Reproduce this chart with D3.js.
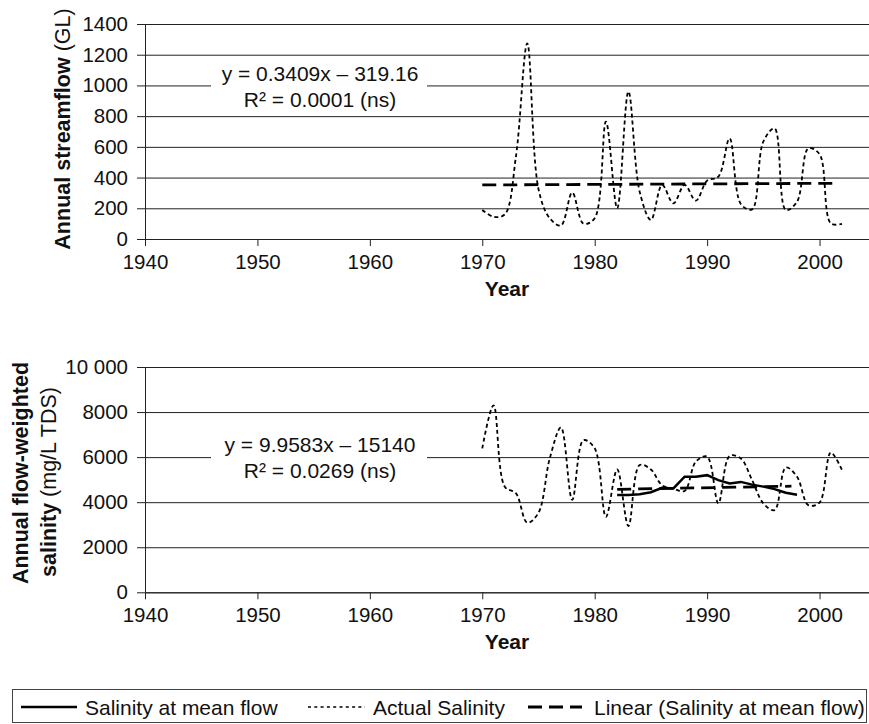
<!DOCTYPE html>
<html lang="en">
<head>
<meta charset="UTF-8" />
<title>Streamflow and salinity</title>
<script src="https://d3js.org/d3.v7.min.js"></script>
<style>
  body { margin: 0; background: #fff; }
  svg { display: block; font-family: "Liberation Sans", Arial, sans-serif; }
  .grid line { stroke: #222; stroke-width: 1; }
  .grid path { display: none; }
  .axis path, .axis line { stroke: #222; stroke-width: 1; }
  .axis text { font-family: "Liberation Sans", Arial, sans-serif; font-size: 20.5px; fill: #111; }
</style>
</head>
<body>
<svg width="869" height="724"></svg>
<script>
// ---- data ----
const years = [1970, 1971, 1972, 1973, 1974, 1975, 1976, 1977, 1978, 1979,
  1980, 1981, 1982, 1983, 1984, 1985, 1986, 1987, 1988, 1989,
  1990, 1991, 1992, 1993, 1994, 1995, 1996, 1997, 1998, 1999,
  2000, 2001, 2002];

const streamflow = [189, 145, 160, 540, 1274, 325, 135, 88, 302, 100,
  135, 764, 200, 960, 308, 124, 352, 232, 352, 250,
  380, 406, 655, 228, 193, 634, 720, 189, 243, 590,
  553, 102, 98];

const actualSalinity = [6390, 8300, 4690, 4390, 3090, 3530, 5940, 7320, 4100, 6750,
  6390, 3350, 5450, 2940, 5650, 5450, 4750, 4600, 4500, 5800,
  6020, 3950, 6050, 5940, 4980, 3950, 3650, 5540, 5130, 3870,
  3980, 6200, 5420];

const meanFlowYears = [1982, 1983, 1984, 1985, 1986, 1987, 1988, 1989, 1990,
  1991, 1992, 1993, 1994, 1995, 1996, 1997, 1998];
const meanFlowSalinity = [4320, 4320, 4350, 4440, 4640, 4610, 5130, 5130, 5200,
  4980, 4830, 4900, 4780, 4690, 4580, 4420, 4330];

// linear trendline end points
const flowTrend = [[1970, 352], [2001.6, 363]];
const salinityTrend = [[1982, 4570], [1997.5, 4710]];

const xTicks = [1940, 1950, 1960, 1970, 1980, 1990, 2000];
const flowTicks = [0, 200, 400, 600, 800, 1000, 1200, 1400];
const salinityTicks = [0, 2000, 4000, 6000, 8000, 10000];

const flowEq = ["y = 0.3409x \u2013 319.16", "R\u00B2 = 0.0001 (ns)"];
const salinityEq = ["y = 9.9583x \u2013 15140", "R\u00B2 = 0.0269 (ns)"];

const legendItems = [
  { label: "Salinity at mean flow", dash: null, width: 2.5 },
  { label: "Actual Salinity", dash: "3,3.3", width: 1.6 },
  { label: "Linear (Salinity at mean flow)", dash: "14,7", width: 3 }
];

// ---- layout ----
const svg = d3.select("svg");
const left = 145, right = 869;

const x = d3.scaleLinear().domain([1940, 2004.4]).range([left, right]);

function panel(cfg) {
  const y = d3.scaleLinear().domain(cfg.domain).range([cfg.bottom, cfg.top]);
  const g = svg.append("g");

  g.append("g")
    .attr("class", "grid")
    .attr("transform", `translate(${left},0)`)
    .call(d3.axisLeft(y).tickValues(cfg.ticks).tickSize(-(right - left)).tickFormat(""));

  // equation label with white backing
  g.append("rect")
    .attr("x", 211).attr("y", cfg.eqY - 24)
    .attr("width", 216).attr("height", 56)
    .attr("fill", "#fff");
  cfg.eq.forEach((t, i) => {
    g.append("text")
      .attr("x", 320).attr("y", cfg.eqY + i * 26)
      .attr("text-anchor", "middle")
      .attr("font-size", 21).attr("fill", "#111")
      .text(t);
  });

  g.append("g")
    .attr("class", "axis")
    .attr("transform", `translate(${left},0)`)
    .call(d3.axisLeft(y).tickValues(cfg.ticks).tickSize(8).tickPadding(9)
      .tickSizeOuter(0).tickFormat(cfg.fmt));

  g.append("g")
    .attr("class", "axis")
    .attr("transform", `translate(0,${cfg.bottom})`)
    .call(d3.axisBottom(x).tickValues(xTicks).tickSize(7).tickPadding(8)
      .tickSizeOuter(0).tickFormat(d3.format("d")));

  g.selectAll(".axis text").attr("font-size", null).attr("font-family", null);

  g.append("text")
    .attr("x", (left + right) / 2).attr("y", cfg.bottom + 57)
    .attr("text-anchor", "middle")
    .attr("font-size", 21).attr("font-weight", "bold").attr("fill", "#111")
    .text("Year");

  cfg.series.forEach(s => {
    g.append("path")
      .datum(s.points)
      .attr("fill", "none")
      .attr("stroke", "#000")
      .attr("stroke-width", s.width)
      .attr("stroke-dasharray", s.dash)
      .attr("d", d3.line().x(d => x(d[0])).y(d => y(d[1])).curve(s.curve || d3.curveLinear));
  });

  return g;
}

const smooth = d3.curveCatmullRom.alpha(0.5);

panel({
  domain: [0, 1400], top: 24, bottom: 239, ticks: flowTicks,
  fmt: d3.format("d"), eq: flowEq, eqY: 81,
  series: [
    { points: years.map((yr, i) => [yr, streamflow[i]]), dash: "4,3", width: 1.8, curve: smooth },
    { points: flowTrend, dash: "14,7", width: 2.8 }
  ]
});

panel({
  domain: [0, 10000], top: 367, bottom: 592.3, ticks: salinityTicks,
  fmt: d => d >= 10000 ? d3.format(",")(d).replace(",", " ") : String(d),
  eq: salinityEq, eqY: 452,
  series: [
    { points: years.map((yr, i) => [yr, actualSalinity[i]]), dash: "4,3", width: 1.8, curve: smooth },
    { points: meanFlowYears.map((yr, i) => [yr, meanFlowSalinity[i]]), dash: null, width: 2.5 },
    { points: salinityTrend, dash: "14,7", width: 2.8 }
  ]
});

// ---- y axis titles ----
const t1 = svg.append("text")
  .attr("transform", "translate(70,129) rotate(-90)")
  .attr("text-anchor", "middle").attr("font-size", 21.5).attr("fill", "#111");
t1.append("tspan").attr("font-weight", "bold").text("Annual streamflow ");
t1.append("tspan").text("(GL)");

svg.append("text")
  .attr("transform", "translate(28,473) rotate(-90)")
  .attr("text-anchor", "middle").attr("font-size", 21.5).attr("font-weight", "bold")
  .attr("fill", "#111")
  .text("Annual flow-weighted");
const t3 = svg.append("text")
  .attr("transform", "translate(56,482) rotate(-90)")
  .attr("text-anchor", "middle").attr("font-size", 21.5).attr("fill", "#111");
t3.append("tspan").attr("font-weight", "bold").text("salinity ");
t3.append("tspan").text("(mg/L TDS)");

// ---- legend ----
const lg = svg.append("g");
lg.append("rect")
  .attr("x", 12.5).attr("y", 689.5).attr("width", 854).attr("height", 33)
  .attr("fill", "#fff").attr("stroke", "#444").attr("stroke-width", 1);

const legendX = [[21, 77, 85], [308, 365, 373], [528, 582, 594]];
legendItems.forEach((it, i) => {
  const [x0, x1, tx] = legendX[i];
  lg.append("line")
    .attr("x1", x0).attr("x2", x1).attr("y1", 707).attr("y2", 707)
    .attr("stroke", "#000").attr("stroke-width", it.width)
    .attr("stroke-dasharray", it.dash);
  lg.append("text")
    .attr("x", tx).attr("y", 715)
    .attr("font-size", 21).attr("fill", "#111")
    .text(it.label);
});
</script>
</body>
</html>
